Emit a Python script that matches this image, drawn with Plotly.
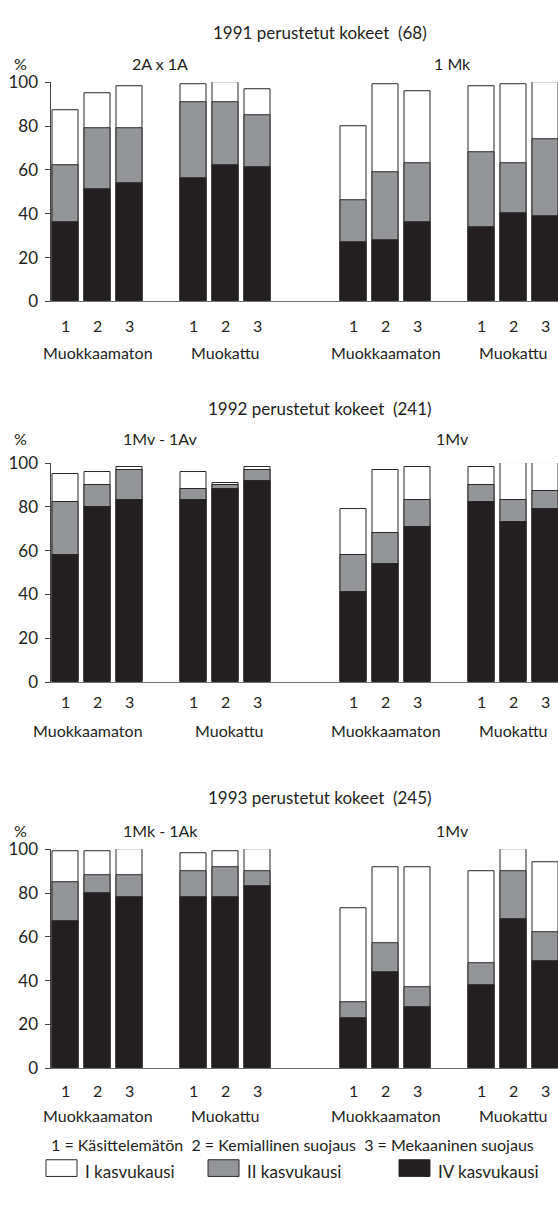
import plotly.graph_objects as go

# ---------------- data ----------------
positions = [0, 1, 2, 4, 5, 6, 9, 10, 11, 13, 14, 15]
treat_labels = ["1", "2", "3"] * 4
group_labels = ["Muokkaamaton", "Muokattu", "Muokkaamaton", "Muokattu"]
group_centers = [1, 5, 10, 14]

panel_titles = ["1991 perustetut kokeet\u00a0\u00a0(68)", "1992 perustetut kokeet\u00a0\u00a0(241)", "1993 perustetut kokeet\u00a0\u00a0(245)"]
left_labels = ["2A x 1A", "1Mv - 1Av", "1Mk - 1Ak"]
right_labels = ["1 Mk", "1Mv", "1Mv"]

season_names = ["I kasvukausi", "II kasvukausi", "IV kasvukausi"]
footnote = "1 = Käsittelemätön\u00a0\u00a02 = Kemiallinen suojaus\u00a0\u00a03 = Mekaaninen suojaus"

I_1991 = [87, 95, 98, 99, 100, 97, 80, 99, 96, 98, 99, 100]
II_1991 = [62, 79, 79, 91, 91, 85, 46, 59, 63, 68, 63, 74]
IV_1991 = [36, 51, 54, 56, 62, 61, 27, 28, 36, 34, 40, 39]

I_1992 = [95, 96, 98, 96, 91, 98, 79, 97, 98, 98, 100, 100]
II_1992 = [82, 90, 97, 88, 90, 97, 58, 68, 83, 90, 83, 87]
IV_1992 = [58, 80, 83, 83, 88, 92, 41, 54, 71, 82, 73, 79]

I_1993 = [99, 99, 100, 98, 99, 100, 73, 92, 92, 90, 100, 94]
II_1993 = [85, 88, 88, 90, 92, 90, 30, 57, 37, 48, 90, 62]
IV_1993 = [67, 80, 78, 78, 78, 83, 23, 44, 28, 38, 68, 49]

y_ticks = [0, 20, 40, 60, 80, 100]

# ---------------- style ----------------
W, H = 558, 1212
FONT = "Lato"
TXT = "#231f20"
FILLS = ["#ffffff", "#939598", "#231f20"]
OUTLINE = "#2a2627"

panels = [
    (I_1991, II_1991, IV_1991),
    (I_1992, II_1992, IV_1992),
    (I_1993, II_1993, IV_1993),
]
# pixel rows of y=0 and y=100 for each panel
px_zero = [295.5, 683, 1076]
px_top = [72.5, 460, 853]
title_px = [22, 405, 800]
sub_px = [53, 435, 834]
num_px = [320, 703, 1099]
grp_px = [348, 732, 1124]
grp_shift = [[0, 0, 0, 0], [-0.3, 0.12, 0, 0], [0, 0, 0, 0]]

X0_PX = 50.5
STEP = 32.0
FIRST_PX = 65.5
x_range = [(X0_PX - FIRST_PX) / STEP, (W - FIRST_PX) / STEP]

def py(p):
    return 1 - p / H

def px(p):
    return p / W

fig = go.Figure()
annotations = []
shapes = []

for i, series in enumerate(panels):
    xa = "x" if i == 0 else f"x{i+1}"
    ya = "y" if i == 0 else f"y{i+1}"
    for k, vals in enumerate(series):
        fig.add_trace(go.Bar(
            x=positions, y=vals, xaxis=xa, yaxis=ya,
            width=0.8, name=season_names[k], showlegend=False,
            marker=dict(color=FILLS[k], line=dict(color=OUTLINE, width=1)),
            hoverinfo="y",
        ))
    axkey = "xaxis" if i == 0 else f"xaxis{i+1}"
    aykey = "yaxis" if i == 0 else f"yaxis{i+1}"
    fig.layout[axkey] = dict(
        domain=[px(X0_PX), 1], range=x_range, anchor=ya,
        tickvals=positions, ticktext=treat_labels, ticks="",
        showline=True, linecolor="#6d6e71", linewidth=1,
        showgrid=False, zeroline=False,
        showticklabels=False, fixedrange=True,
    )
    fig.layout[aykey] = dict(
        domain=[py(px_zero[i]), py(px_top[i])], range=[0, 100], anchor=xa,
        tickvals=y_ticks, ticks="outside", ticklen=5, tickcolor="#444",
        showline=True, linecolor="#444", linewidth=1,
        showgrid=False, zeroline=False, fixedrange=True,
        tickfont=dict(family=FONT, size=17, color=TXT),
        ticklabelstandoff=3,
    )
    # treatment numbers under bars
    for pos, lab in zip(positions, treat_labels):
        annotations.append(dict(x=pos, xref=xa, y=py(num_px[i]), yref="paper",
                                text=lab, showarrow=False, xanchor="center", yanchor="middle",
                                font=dict(family=FONT, size=16, color=TXT)))
    # group labels
    for gc, gl, gs in zip(group_centers, group_labels, grp_shift[i]):
        annotations.append(dict(x=gc + gs, xref=xa, y=py(grp_px[i]), yref="paper",
                                text=gl, showarrow=False, xanchor="center", yanchor="middle",
                                font=dict(family=FONT, size=16, color=TXT)))
    annotations.append(dict(x=px(320), xref="paper", y=py(title_px[i]), yref="paper",
                            text=panel_titles[i], showarrow=False, xanchor="center", yanchor="middle",
                            font=dict(family=FONT, size=17, color=TXT)))
    annotations.append(dict(x=px(160), xref="paper", y=py(sub_px[i]), yref="paper",
                            text=left_labels[i], showarrow=False, xanchor="center", yanchor="middle",
                            font=dict(family=FONT, size=16, color=TXT)))
    annotations.append(dict(x=px(452), xref="paper", y=py(sub_px[i]), yref="paper",
                            text=right_labels[i], showarrow=False, xanchor="center", yanchor="middle",
                            font=dict(family=FONT, size=16, color=TXT)))
    annotations.append(dict(x=px(20), xref="paper", y=py(sub_px[i]), yref="paper",
                            text="%", showarrow=False, xanchor="center", yanchor="middle",
                            font=dict(family=FONT, size=16, color=TXT)))

# footnote
annotations.append(dict(x=px(292), xref="paper", y=py(1153), yref="paper",
                        text=footnote,
                        showarrow=False, xanchor="center", yanchor="middle",
                        font=dict(family=FONT, size=16, color=TXT)))

# custom legend
leg_box_x = [46, 208, 399]
for k in range(3):
    shapes.append(dict(type="rect", xref="paper", yref="paper",
                       x0=px(leg_box_x[k]), x1=px(leg_box_x[k] + 31),
                       y0=py(1186), y1=py(1169),
                       fillcolor=FILLS[k], line=dict(color=OUTLINE, width=1)))
    annotations.append(dict(x=px(leg_box_x[k] + 37), xref="paper", y=py(1181), yref="paper",
                            text=season_names[k], showarrow=False, xanchor="left", yanchor="middle",
                            font=dict(family=FONT, size=17, color=TXT)))

fig.update_layout(
    width=W, height=H,
    margin=dict(l=0, r=0, t=0, b=0),
    paper_bgcolor="white", plot_bgcolor="white",
    barmode="overlay", bargap=0,
    annotations=annotations, shapes=shapes,
    showlegend=False,
)

fig.write_html("out.html", config={"displayModeBar": False},
               post_script="document.body.style.margin='0';")
